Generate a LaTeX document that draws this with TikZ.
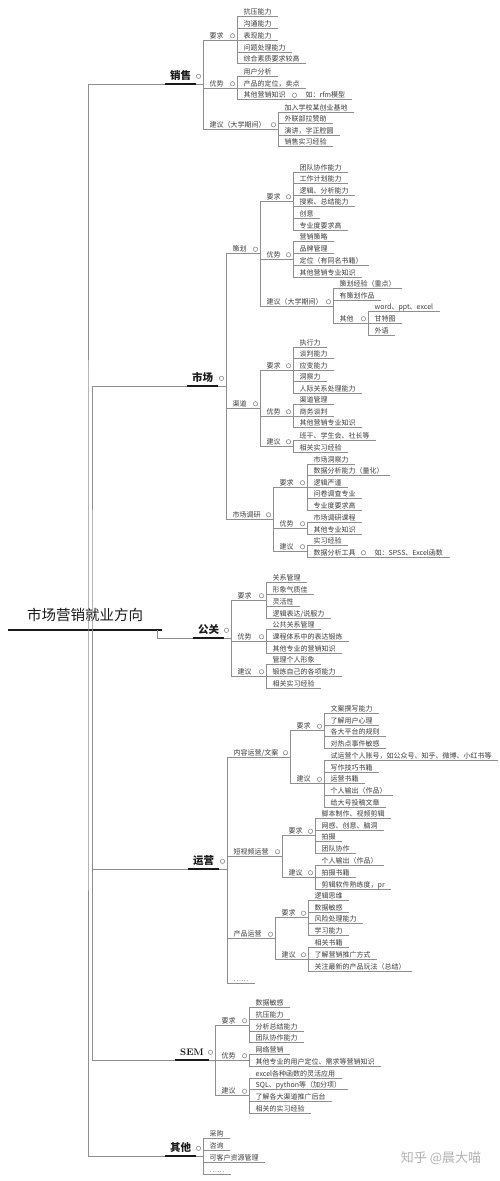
\documentclass[tikz,border=0pt]{standalone}
\usepackage{fontspec}
\usepackage{tikz}
\usetikzlibrary{calc}
\newfontfamily\cjk{Noto Sans CJK SC}
\definecolor{txt}{HTML}{3C3C3C}
\definecolor{ln}{HTML}{8E8E8E}
\definecolor{ink}{HTML}{1A1A1A}
\tikzset{
  conn/.style={draw=ln, line width=0.7pt},
  uline/.style={draw=ln, line width=0.7pt},
  leaf/.style={anchor=south west, inner xsep=6.5pt, inner ysep=0.3pt, text height=6pt, text depth=1.5pt, text=txt, font=\cjk\fontsize{7}{8}\selectfont, append after command={(\tikzlastnode.south west) edge[uline] (\tikzlastnode.south east)}},
  topic/.style={anchor=south west, inner xsep=5pt, inner ysep=3pt, text height=8pt, text depth=1pt, text=ink, font=\cjk\bfseries\fontsize{10.5}{12}\selectfont, append after command={(\tikzlastnode.south west) edge[draw=ink, line width=2pt] (\tikzlastnode.south east)}},
  maintopic/.style={anchor=south west, minimum width=154pt, inner ysep=8pt, text=ink, font=\cjk\fontsize{14.5}{16}\selectfont, append after command={(\tikzlastnode.south west) edge[draw=ink, line width=2.5pt] (\tikzlastnode.south east)}},
  knob/.style={circle, draw=ln, fill=white, line width=0.6pt, minimum size=4.4pt, inner sep=0pt}
}
% parent, first child, last child
\newcommand{\fork}[3]{%
  \draw[conn] (#1.south east) -- (#2.south west |- #1.south east)
    (#2.south west) -- (#3.south west);
  \node[knob] at ($(#2.south west |- #1.east)+(-4.5,0)$) {};}

\begin{document}
\begin{tikzpicture}[x=1pt, y=-1pt]
\path[use as bounding box, fill=white] (0,0) rectangle (500,1181);

% Centro
\node[maintopic] (root) at (8,630) {市场营销就业方向};
\coordinate (spineA) at (88,630);
\coordinate (spineB) at (92,630);
\coordinate (hub) at (157,630);

% Ramas
\node[topic] (xs) at (165,84) {销售};
\node[topic] (sc) at (187,386) {市场};
\node[topic] (gg) at (193,638) {公关};
\node[topic] (yy) at (188,869) {运营};
\node[topic, font=\rmfamily\bfseries\fontsize{9.5}{11}\selectfont] (se) at (175,1060) {SEM};
\node[topic] (qt) at (165,1156) {其他};

\draw[conn] (xs.south west) -| (spineA) |- (qt.south west);
\draw[conn] (sc.south west) -| (spineB) |- (se.south west);
\draw[conn] (yy.south west) -| (spineB);
\draw[conn] (hub) |- (gg.south west);

% 销售
\node[leaf] (xsa) at (203,40) {要求};
\node[leaf] (xsa1) at (237,16) {抗压能力};
\node[leaf] (xsa2) at (237,28) {沟通能力};
\node[leaf] (xsa3) at (237,40) {表现能力};
\node[leaf] (xsa4) at (237,52) {问题处理能力};
\node[leaf] (xsa5) at (237,63.5) {综合素质要求较高};
\node[leaf] (xsb) at (203,88) {优势};
\node[leaf] (xsb1) at (237,76) {用户分析};
\node[leaf] (xsb2) at (237,88) {产品的定位，卖点};
\node[leaf] (xsb3) at (237,99.5) {其他营销知识};
\node[leaf] (xsb3a) at (299,99.5) {如：rfm模型};
\node[leaf] (xsc) at (203,129) {建议（大学期间）};
\node[leaf] (xsc1) at (278,112) {加入学校某创业基地};
\node[leaf] (xsc2) at (278,123.5) {外联部拉赞助};
\node[leaf] (xsc3) at (278,135) {演讲，字正腔圆};
\node[leaf] (xsc4) at (278,146.5) {销售实习经验};
\fork{xs}{xsa}{xsc}
\fork{xsa}{xsa1}{xsa5}
\fork{xsb}{xsb1}{xsb3}
\fork{xsb3}{xsb3a}{xsb3a}
\fork{xsc}{xsc1}{xsc4}

% 市场
\node[leaf] (sca) at (226,253.5) {策划};
\node[leaf] (scaa) at (260,201) {要求};
\node[leaf] (scaa1) at (293,172) {团队协作能力};
\node[leaf] (scaa2) at (293,183.6) {工作计划能力};
\node[leaf] (scaa3) at (293,195.2) {逻辑、分析能力};
\node[leaf] (scaa4) at (293,206.8) {搜索、总结能力};
\node[leaf] (scaa5) at (293,218.4) {创意};
\node[leaf] (scaa6) at (293,230) {专业度要求高};
\node[leaf] (scab) at (260,259) {优势};
\node[leaf] (scab1) at (293,241) {营销策略};
\node[leaf] (scab2) at (293,253) {品牌管理};
\node[leaf] (scab3) at (293,265) {定位（有同名书籍）};
\node[leaf] (scab4) at (293,277) {其他营销专业知识};
\node[leaf] (scac) at (260,306) {建议（大学期间）};
\node[leaf] (scac1) at (333,288) {策划经验（重点）};
\node[leaf] (scac2) at (333,300) {有策划作品};
\node[leaf] (scac3) at (333,323) {其他};
\node[leaf] (scac3a) at (368,311) {word、ppt、excel};
\node[leaf] (scac3b) at (368,323) {甘特图};
\node[leaf] (scac3c) at (368,335) {外语};
\node[leaf] (scb) at (226,408) {渠道};
\node[leaf] (scba) at (260,370) {要求};
\node[leaf] (scba1) at (293,347) {执行力};
\node[leaf] (scba2) at (293,358.5) {谈判能力};
\node[leaf] (scba3) at (293,370) {应变能力};
\node[leaf] (scba4) at (293,381.5) {洞察力};
\node[leaf] (scba5) at (293,393) {人际关系处理能力};
\node[leaf] (scbb) at (260,416) {优势};
\node[leaf] (scbb1) at (293,404.5) {渠道管理};
\node[leaf] (scbb2) at (293,416) {商务谈判};
\node[leaf] (scbb3) at (293,427.5) {其他营销专业知识};
\node[leaf] (scbc) at (260,446) {建议};
\node[leaf] (scbc1) at (293,440) {班干、学生会、社长等};
\node[leaf] (scbc2) at (293,452) {相关实习经验};
\node[leaf] (scc) at (226,519) {市场调研};
\node[leaf] (scca) at (273,487) {要求};
\node[leaf] (scca1) at (307,464) {市场洞察力};
\node[leaf] (scca2) at (307,475.5) {数据分析能力（量化）};
\node[leaf] (scca3) at (307,487) {逻辑严谨};
\node[leaf] (scca4) at (307,498.5) {问卷调查专业};
\node[leaf] (scca5) at (307,510) {专业度要求高};
\node[leaf] (sccb) at (273,528) {优势};
\node[leaf] (sccb1) at (307,522.5) {市场调研课程};
\node[leaf] (sccb2) at (307,534) {其他专业知识};
\node[leaf] (sccc) at (273,551) {建议};
\node[leaf] (sccc1) at (307,545.5) {实习经验};
\node[leaf] (sccc2) at (307,557) {数据分析工具};
\node[leaf] (sccc2a) at (368,557) {如：SPSS、Excel函数};
\fork{sc}{sca}{scc}
\fork{sca}{scaa}{scac}
\fork{scaa}{scaa1}{scaa6}
\fork{scab}{scab1}{scab4}
\fork{scac}{scac1}{scac3}
\fork{scac3}{scac3a}{scac3c}
\fork{scb}{scba}{scbc}
\fork{scba}{scba1}{scba5}
\fork{scbb}{scbb1}{scbb3}
\fork{scbc}{scbc1}{scbc2}
\fork{scc}{scca}{sccc}
\fork{scca}{scca1}{scca5}
\fork{sccb}{sccb1}{sccb2}
\fork{sccc}{sccc1}{sccc2}
\fork{sccc2}{sccc2a}{sccc2a}

% 公关
\node[leaf] (gga) at (231,600) {要求};
\node[leaf] (gga1) at (266,582) {关系管理};
\node[leaf] (gga2) at (266,594) {形象气质佳};
\node[leaf] (gga3) at (266,606) {灵活性};
\node[leaf] (gga4) at (266,618) {逻辑表达/说服力};
\node[leaf] (ggb) at (231,641) {优势};
\node[leaf] (ggb1) at (266,629) {公共关系管理};
\node[leaf] (ggb2) at (266,641) {课程体系中的表达锻炼};
\node[leaf] (ggb3) at (266,653) {其他专业的营销知识};
\node[leaf] (ggc) at (231,676) {建议};
\node[leaf] (ggc1) at (266,664) {管理个人形象};
\node[leaf] (ggc2) at (266,676) {锻炼自己的各项能力};
\node[leaf] (ggc3) at (266,688) {相关实习经验};
\fork{gg}{gga}{ggc}
\fork{gga}{gga1}{gga4}
\fork{ggb}{ggb1}{ggb3}
\fork{ggc}{ggc1}{ggc3}

% 运营
\node[leaf] (yya) at (227,757) {内容运营/文案};
\node[leaf] (yyaa) at (290,730.5) {要求};
\node[leaf] (yyaa1) at (324,713) {文案撰写能力};
\node[leaf] (yyaa2) at (324,725) {了解用户心理};
\node[leaf] (yyaa3) at (324,736.5) {各大平台的规则};
\node[leaf] (yyaa4) at (324,748) {对热点事件敏感};
\node[leaf] (yyab) at (290,783.5) {建议};
\node[leaf] (yyab1) at (324,760) {试运营个人账号，如公众号、知乎、微博、小红书等};
\node[leaf] (yyab2) at (324,772) {写作技巧书籍};
\node[leaf] (yyab3) at (324,783.5) {运营书籍};
\node[leaf] (yyab4) at (324,795) {个人输出（作品）};
\node[leaf] (yyab5) at (324,807) {给大号投稿文章};
\node[leaf] (yyb) at (227,856) {短视频运营};
\node[leaf] (yyba) at (282,835.5) {要求};
\node[leaf] (yyba1) at (315,818) {脚本制作、视频剪辑};
\node[leaf] (yyba2) at (315,830) {网感、创意、脑洞};
\node[leaf] (yyba3) at (315,841) {拍摄};
\node[leaf] (yyba4) at (315,853) {团队协作};
\node[leaf] (yybb) at (282,877) {建议};
\node[leaf] (yybb1) at (315,865) {个人输出（作品）};
\node[leaf] (yybb2) at (315,877) {拍摄书籍};
\node[leaf] (yybb3) at (315,889) {剪辑软件熟练度，pr};
\node[leaf] (yyc) at (227,938.5) {产品运营};
\node[leaf] (yyca) at (275,917.5) {要求};
\node[leaf] (yyca1) at (308,900) {逻辑思维};
\node[leaf] (yyca2) at (308,912) {数据敏感};
\node[leaf] (yyca3) at (308,923) {风险处理能力};
\node[leaf] (yyca4) at (308,935) {学习能力};
\node[leaf] (yycb) at (275,959) {建议};
\node[leaf] (yycb1) at (308,947) {相关书籍};
\node[leaf] (yycb2) at (308,959) {了解营销推广方式};
\node[leaf] (yycb3) at (308,971) {关注最新的产品玩法（总结）};
\node[leaf] (yyd) at (227,983) {……};
\fork{yy}{yya}{yyd}
\fork{yya}{yyaa}{yyab}
\fork{yyaa}{yyaa1}{yyaa4}
\fork{yyab}{yyab1}{yyab5}
\fork{yyb}{yyba}{yybb}
\fork{yyba}{yyba1}{yyba4}
\fork{yybb}{yybb1}{yybb3}
\fork{yyc}{yyca}{yycb}
\fork{yyca}{yyca1}{yyca4}
\fork{yycb}{yycb1}{yycb3}

% SEM
\node[leaf] (sea) at (215,1025) {要求};
\node[leaf] (sea1) at (249,1007) {数据敏感};
\node[leaf] (sea2) at (249,1019) {抗压能力};
\node[leaf] (sea3) at (249,1031) {分析总结能力};
\node[leaf] (sea4) at (249,1042) {团队协作能力};
\node[leaf] (seb) at (215,1060) {优势};
\node[leaf] (seb1) at (249,1054) {网络营销};
\node[leaf] (seb2) at (249,1066) {其他专业的用户定位、需求等营销知识};
\node[leaf] (sec) at (215,1095.5) {建议};
\node[leaf] (sec1) at (249,1078) {excel各种函数的灵活应用};
\node[leaf] (sec2) at (249,1089.5) {SQL、python等（加分项）};
\node[leaf] (sec3) at (249,1101) {了解各大渠道推广后台};
\node[leaf] (sec4) at (249,1113) {相关的实习经验};
\fork{se}{sea}{sec}
\fork{sea}{sea1}{sea4}
\fork{seb}{seb1}{seb2}
\fork{sec}{sec1}{sec4}

% 其他
\node[leaf] (qt1) at (203,1138) {采购};
\node[leaf] (qt2) at (203,1150) {咨询};
\node[leaf] (qt3) at (203,1162) {可客户资源管理};
\node[leaf] (qt4) at (203,1174) {……};
\fork{qt}{qt1}{qt4}

\node[text=gray!60, font=\cjk\fontsize{13}{14}\selectfont] (wm) at (441,1158) {知乎 @晨大喵};

\end{tikzpicture}
\end{document}
